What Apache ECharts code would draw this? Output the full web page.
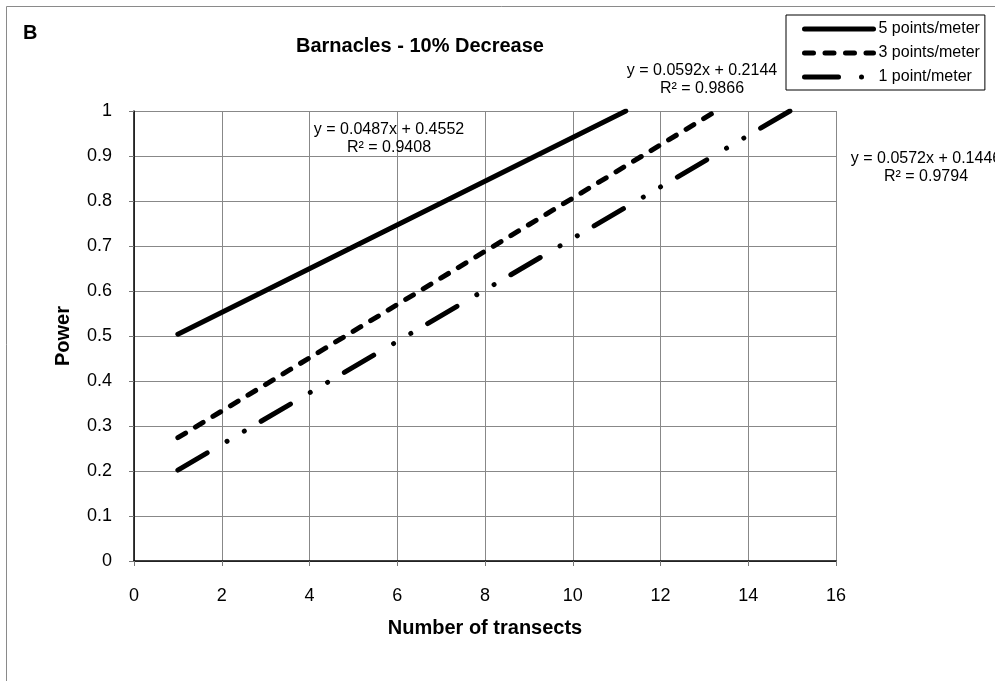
<!DOCTYPE html>
<html>
<head>
<meta charset="utf-8">
<script src="https://cdn.jsdelivr.net/npm/echarts@6/dist/echarts.min.js"></script>
<style>
  html, body { margin: 0; padding: 0; background: #fff; }
  #chart { width: 995px; height: 681px; }
</style>
</head>
<body>
<div id="chart"></div>
<script>
// Power of detecting a 10% decrease in barnacle cover vs. number of transects
const seriesNames = ['5 points/meter', '3 points/meter', '1 point/meter'];

// Trendline end points (number of transects, power)
const transects5 = [1, 11.21];
const power5 = [0.504, 1.0];
const transects3 = [1, 13.27];
const power3 = [0.274, 1.0];
const transects1 = [1, 14.95];
const power1 = [0.202, 1.0];

const xTicks = [0, 2, 4, 6, 8, 10, 12, 14, 16];
const yTicks = [0, 0.1, 0.2, 0.3, 0.4, 0.5, 0.6, 0.7, 0.8, 0.9, 1];

// Trendline equations shown next to the lines
const eq5 = ['y = 0.0487x + 0.4552', 'R² = 0.9408'];
const eq3 = ['y = 0.0592x + 0.2144', 'R² = 0.9866'];
const eq1 = ['y = 0.0572x + 0.1446', 'R² = 0.9794'];

const FONT = 'Arial, "Liberation Sans", Helvetica, sans-serif';

function pairs(xs, ys) {
  return xs.map((x, i) => [x, ys[i]]);
}

const chart = echarts.init(document.getElementById('chart'), null, { renderer: 'canvas' });

const lineBase = { color: '#000', width: 5, cap: 'round', join: 'round' };

chart.setOption({
  backgroundColor: '#fff',
  animation: false,
  textStyle: { fontFamily: FONT, color: '#000' },
  title: {
    text: 'Barnacles - 10% Decrease',
    left: 296,
    top: 36,
    padding: 0,
    textStyle: { fontFamily: FONT, fontSize: 20, fontWeight: 'bold', color: '#000' }
  },
  legend: {
    orient: 'vertical',
    left: 786,
    top: 15,
    padding: [6, 5, 5, 16],
    itemGap: 8,
    itemWidth: 69,
    itemHeight: 16,
    borderColor: '#000',
    borderWidth: 1,
    borderRadius: 0,
    backgroundColor: '#fff',
    data: seriesNames,
    itemStyle: { color: 'rgba(0,0,0,0)', borderWidth: 0, opacity: 0 },
    lineStyle: { width: 5, color: '#000', cap: 'round' },
    textStyle: { fontFamily: FONT, fontSize: 16, color: '#000', padding: [0, 0, 0, 0] }
  },
  grid: { left: 134, top: 111, right: 159, bottom: 120, containLabel: false },
  xAxis: {
    type: 'value',
    min: xTicks[0],
    max: xTicks[xTicks.length - 1],
    interval: xTicks[1] - xTicks[0],
    name: 'Number of transects',
    nameLocation: 'middle',
    nameGap: 57,
    nameTextStyle: { fontFamily: FONT, fontSize: 20, fontWeight: 'bold', color: '#000' },
    axisLine: { show: true, onZero: false, lineStyle: { color: '#000', width: 1.5 } },
    axisTick: { show: true, length: 5, lineStyle: { color: '#777' } },
    axisLabel: { fontFamily: FONT, fontSize: 18, color: '#000', margin: 26 },
    splitLine: { show: true, lineStyle: { color: '#888', width: 1 } }
  },
  yAxis: {
    type: 'value',
    min: yTicks[0],
    max: yTicks[yTicks.length - 1],
    interval: 0.1,
    name: 'Power',
    nameLocation: 'middle',
    nameGap: 61,
    nameTextStyle: { fontFamily: FONT, fontSize: 20, fontWeight: 'bold', color: '#000' },
    axisLine: { show: true, onZero: false, lineStyle: { color: '#000', width: 1.5 } },
    axisTick: { show: true, length: 5, lineStyle: { color: '#777' } },
    axisLabel: { fontFamily: FONT, fontSize: 18, color: '#000', margin: 22 },
    splitLine: { show: true, lineStyle: { color: '#888', width: 1 } }
  },
  series: [
    {
      name: seriesNames[0],
      type: 'line',
      symbol: 'none',
      data: pairs(transects5, power5),
      lineStyle: Object.assign({}, lineBase, { type: 'solid' }),
      itemStyle: { color: '#000' },
      z: 5
    },
    {
      name: seriesNames[1],
      type: 'line',
      symbol: 'none',
      data: pairs(transects3, power3),
      lineStyle: Object.assign({}, lineBase, { type: [9, 11.5] }),
      itemStyle: { color: '#000' },
      z: 5
    },
    {
      name: seriesNames[2],
      type: 'line',
      symbol: 'none',
      data: pairs(transects1, power1),
      lineStyle: Object.assign({}, lineBase, { type: [34, 23, 0.01, 20, 0.01, 19.5] }),
      itemStyle: { color: '#000' },
      z: 5
    }
  ],
  graphic: [
    {
      type: 'rect',
      silent: true,
      shape: { x: 6.5, y: 6.5, width: 1200, height: 1000 },
      style: { fill: null, stroke: '#8a8a8a', lineWidth: 1 },
      z: -10
    },
    {
      type: 'text',
      left: 23,
      top: 23,
      style: { text: 'B', font: 'bold 20px ' + FONT, fill: '#000' }
    },
    {
      type: 'text',
      x: 389, y: 139,
      style: {
        text: eq5.join('\n'), font: '16px ' + FONT, fill: '#000',
        align: 'center', verticalAlign: 'middle', lineHeight: 18
      },
      z: 10
    },
    {
      type: 'text',
      x: 702, y: 80,
      style: {
        text: eq3.join('\n'), font: '16px ' + FONT, fill: '#000',
        align: 'center', verticalAlign: 'middle', lineHeight: 18
      },
      z: 10
    },
    {
      type: 'text',
      x: 926, y: 168,
      style: {
        text: eq1.join('\n'), font: '16px ' + FONT, fill: '#000',
        align: 'center', verticalAlign: 'middle', lineHeight: 18
      },
      z: 10
    }
  ]
});
</script>
</body>
</html>
